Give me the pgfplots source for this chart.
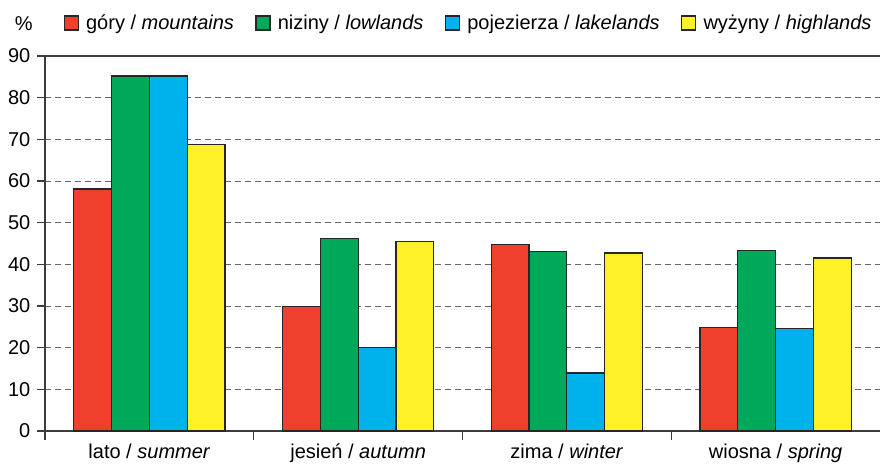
\documentclass[border=0pt]{standalone}
\usepackage{pgfplots}
\pgfplotsset{compat=1.18}
\usepackage{fontspec}
\setmainfont{Liberation Sans}
\definecolor{cred}{RGB}{239,64,46}
\definecolor{cgreen}{RGB}{0,168,89}
\definecolor{cblue}{RGB}{0,178,236}
\definecolor{cyellow}{RGB}{255,240,40}
\definecolor{cline}{RGB}{60,60,60}
\pgfplotsset{
  mybar/.style={fill=#1, draw=black!85, line width=0.9pt,
    legend image code/.code={\draw[fill=#1, draw=black!85, line width=0.9pt] (0pt,-5.25pt) rectangle (10.5pt,5.25pt); \path (14pt,0pt);}}
}
\newcommand{\chartfont}{\fontsize{15}{18}\selectfont}
\begin{document}
\begin{tikzpicture}
\begin{axis}[
  scale only axis, width=626.25pt, height=281.25pt,
  font=\chartfont,
  ybar=0pt, bar width=0.181,
  xmin=-0.5, xmax=3.5, ymin=0, ymax=90,
  axis x line=box, axis y line=left,
  axis line style={-, draw=cline, line width=1.2pt},
  ytick={0,10,...,90}, ytick pos=left, xtick pos=left,
  ymajorgrids, grid style={dash pattern=on 4.5pt off 3pt, black!60, line width=0.7pt},
  xtick={0,1,2,3},
  xticklabels={lato / \textit{summer}, jesień / \textit{autumn}, zima / \textit{winter}, wiosna / \textit{spring}},
  minor xtick={-0.5,0.5,1.5,2.5},
  major x tick style={draw=none},
  minor x tick style={draw=cline, line width=1pt},
  major y tick style={draw=cline, line width=1pt},
  tick align=outside, major tick length=6pt, minor tick length=6.5pt,
  /pgf/number format/assume math mode=true,
  yticklabel style={font=\chartfont, xshift=-1.5pt},
  xticklabel style={font=\chartfont},
  legend columns=4,
  legend style={at={(rel axis cs:0.998,1.088)}, anchor=east, draw=none, fill=none,
    font=\chartfont,
    /tikz/every even column/.append style={column sep=14pt}},
]
\addplot[mybar=cred] coordinates {(0,58.1) (1,29.8) (2,44.7) (3,24.9)};
\addplot[mybar=cgreen] coordinates {(0,85.2) (1,46.2) (2,43.0) (3,43.4)};
\addplot[mybar=cblue] coordinates {(0,85.2) (1,20.0) (2,13.9) (3,24.6)};
\addplot[mybar=cyellow] coordinates {(0,68.7) (1,45.4) (2,42.7) (3,41.5)};
\legend{góry / \textit{mountains}, niziny / \textit{lowlands}, pojezierza / \textit{lakelands}, wyżyny / \textit{highlands}}
\end{axis}
\node[font=\chartfont] at ([xshift=-16pt, yshift=24pt]current axis.north west) {\%};
\pgfresetboundingbox
\path[use as bounding box] ([xshift=-33.75pt, yshift=-24.75pt]current axis.south west) rectangle ([yshift=42pt]current axis.north east);
\end{tikzpicture}
\end{document}
